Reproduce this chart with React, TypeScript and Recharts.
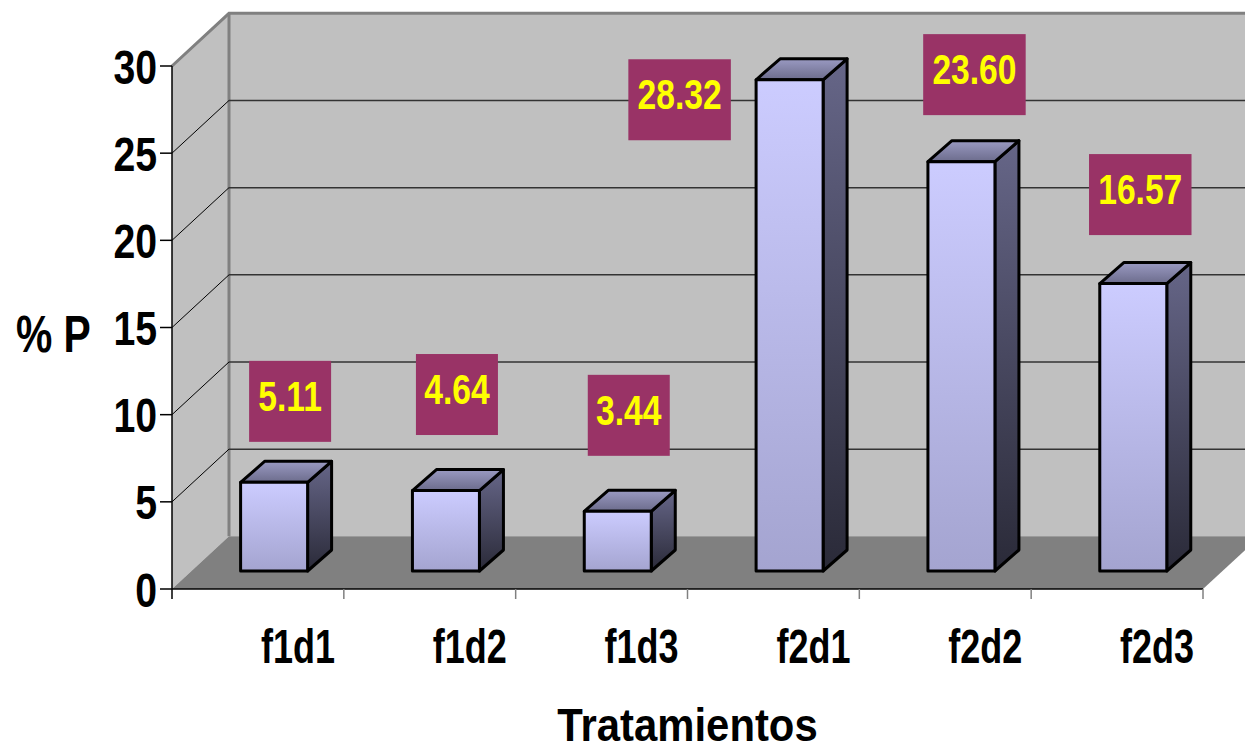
import {
  Bar,
  BarChart,
  LabelList,
  ReferenceArea,
  ReferenceLine,
  XAxis,
  YAxis,
} from "recharts";

// Phosphorus percentage per treatment, drawn Excel-3D style.
const treatments = ["f1d1", "f1d2", "f1d3", "f2d1", "f2d2", "f2d3"];
const percentP = [5.11, 4.64, 3.44, 28.32, 23.6, 16.57];
const yTicks = [0, 5, 10, 15, 20, 25, 30];
const gridTicks = [5, 10, 15, 20, 25];

const data = treatments.map((name, i) => ({ name, p: percentP[i] }));

// chart frame
const WIDTH = 1245;
const HEIGHT = 749;
const MARGIN = { top: 66, right: 42, bottom: 100, left: 0 };
const Y_AXIS_W = 172;
const X_AXIS_H = 60;
const PLOT_W = WIDTH - Y_AXIS_W - MARGIN.right;
const BAND = PLOT_W / treatments.length;

// oblique depth of the walls / floor
const DEPTH_X = 57;
const DEPTH_Y = 52.7;
// bars sit a third of the way into the floor
const BAR_SHIFT_X = 16.6;
const BAR_SHIFT_Y = 18;
const BAR_DX = 24;
const BAR_DY = 21;

// hand-placed label boxes, offset from their default spot above each bar
const LABEL_NUDGE: [number, number][] = [
  [4, 11],
  [-1, -4],
  [-1, -4],
  [-122, 112],
  [1, 5],
  [-5, 3],
];

const FONT = '"Liberation Sans", Arial, sans-serif';

function frontFace(x: number, y: number, width: number, height: number) {
  const fx = x + BAR_SHIFT_X;
  const fb = y + height - BAR_SHIFT_Y;
  const h = height * 0.995;
  return { fx, fb, ft: fb - h, fw: width };
}

function Walls(props: any) {
  const { x, y, width, height } = props;
  const b = y + height;
  return (
    <g>
      <rect
        x={x + DEPTH_X}
        y={y - DEPTH_Y}
        width={width + 80}
        height={height}
        fill="#C0C0C0"
      />
      <polygon
        points={`${x},${y} ${x + DEPTH_X},${y - DEPTH_Y} ${x + DEPTH_X},${b - DEPTH_Y} ${x},${b}`}
        fill="#C0C0C0"
      />
      <polygon
        points={`${x},${b} ${x + DEPTH_X},${b - DEPTH_Y} ${x + width + DEPTH_X + 80},${b - DEPTH_Y} ${x + width + 80},${b} ${x + width},${b}`}
        fill="#808080"
      />
      {/* cut the floor off along its right-hand diagonal */}
      <polygon
        points={`${x + width},${b} ${x + width + DEPTH_X + 80},${b - DEPTH_Y - 80 * (DEPTH_Y / DEPTH_X)} ${x + width + DEPTH_X + 80},${b + 20} ${x + width},${b + 20}`}
        fill="#FFFFFF"
      />
      <polyline
        points={`${x},${y} ${x + DEPTH_X},${y - DEPTH_Y} ${x + width + 120},${y - DEPTH_Y}`}
        fill="none"
        stroke="#808080"
        strokeWidth={3}
      />
      <line
        x1={x + DEPTH_X}
        y1={y - DEPTH_Y}
        x2={x + DEPTH_X}
        y2={b - DEPTH_Y}
        stroke="#808080"
        strokeWidth={3}
      />
    </g>
  );
}

function GridLine(props: any) {
  const { x1, y1, x2 } = props;
  return (
    <g>
      <line
        x1={x1}
        y1={y1}
        x2={x1 + DEPTH_X}
        y2={y1 - DEPTH_Y}
        stroke="#000"
        strokeWidth={1}
      />
      <line
        x1={x1 + DEPTH_X}
        y1={y1 - DEPTH_Y}
        x2={x2 + DEPTH_X + 80}
        y2={y1 - DEPTH_Y}
        stroke="#333"
        strokeWidth={1.5}
      />
    </g>
  );
}

function Box3D(props: any) {
  const { x, y, width, height } = props;
  const { fx, fb, ft, fw } = frontFace(x, y, width, height);
  const r = fx + fw;
  return (
    <g stroke="#000" strokeWidth={3} strokeLinejoin="round">
      <polygon
        points={`${r},${ft} ${r + BAR_DX},${ft - BAR_DY} ${r + BAR_DX},${fb - BAR_DY} ${r},${fb}`}
        fill="url(#sideFill)"
      />
      <polygon
        points={`${fx},${ft} ${fx + BAR_DX},${ft - BAR_DY} ${r + BAR_DX},${ft - BAR_DY} ${r},${ft}`}
        fill="url(#topFill)"
      />
      <rect x={fx} y={ft} width={fw} height={fb - ft} fill="url(#frontFill)" />
    </g>
  );
}

function ValueBox(props: any) {
  const { x, y, width, height, value, index } = props;
  if (x == null || value == null) return null;
  const { fx, ft, fw } = frontFace(x, y, width, height);
  const nudge = LABEL_NUDGE[index ?? 0] ?? [0, 0];
  const text = Number(value).toFixed(2);
  const w = text.length * 20.5;
  const h = 81;
  const cx = fx + fw / 2 + BAR_DX / 2 + nudge[0];
  const cy = ft - 92 + nudge[1];
  return (
    <g>
      <rect x={cx - w / 2} y={cy - h / 2} width={w} height={h} fill="#993366" />
      <text
        transform={`translate(${cx} ${cy - h / 2 + 50}) scale(0.8 1)`}
        textAnchor="middle"
        fill="#FFFF00"
        fontFamily={FONT}
        fontWeight="bold"
        fontSize={42}
      >
        {text}
      </text>
    </g>
  );
}

function YTick(props: any) {
  const { x, y, payload } = props;
  return (
    <text
      transform={`translate(${x} ${y + 17.5}) scale(0.8 1)`}
      textAnchor="end"
      fill="#000"
      fontFamily={FONT}
      fontWeight="bold"
      fontSize={49}
    >
      {payload.value}
    </text>
  );
}

function XTick(props: any) {
  const { x, y, payload, index } = props;
  const left = x - BAND / 2;
  const last = index === treatments.length - 1;
  return (
    <g>
      <line
        x1={left}
        y1={y}
        x2={left}
        y2={y + 10}
        stroke={index === 0 ? "#000" : "#808080"}
        strokeWidth={1.5}
      />
      {last && (
        <line
          x1={x + BAND / 2}
          y1={y}
          x2={x + BAND / 2}
          y2={y + 10}
          stroke="#808080"
          strokeWidth={1.5}
        />
      )}
      <text
        transform={`translate(${x + 40} ${y + 73.7}) scale(0.75 1)`}
        textAnchor="middle"
        fill="#000"
        fontFamily={FONT}
        fontWeight="bold"
        fontSize={48}
      >
        {payload.value}
      </text>
    </g>
  );
}

function XTitle(props: any) {
  const vb = props.viewBox ?? { x: 0, y: 0, width: 0 };
  return (
    <text
      transform={`translate(${vb.x + vb.width / 2} ${vb.y + 152}) scale(0.89 1)`}
      textAnchor="middle"
      fill="#000"
      fontFamily={FONT}
      fontWeight="bold"
      fontSize={47}
    >
      Tratamientos
    </text>
  );
}

function YTitle(props: any) {
  const vb = props.viewBox ?? { x: 0, y: 0, height: 0 };
  return (
    <text
      transform={`translate(${vb.x + 53.4} ${vb.y + vb.height / 2 + 24}) scale(0.8 1)`}
      textAnchor="middle"
      fill="#000"
      fontFamily={FONT}
      fontWeight="bold"
      fontSize={51}
    >
      % P
    </text>
  );
}

export default function App() {
  return (
    <div style={{ position: "absolute", left: 0, top: 0, background: "#fff" }}>
      <BarChart width={WIDTH} height={HEIGHT} data={data} margin={MARGIN}>
        <defs>
          <linearGradient id="frontFill" x1="0" y1="0" x2="0" y2="1">
            <stop offset="0%" stopColor="#CCCCFF" />
            <stop offset="100%" stopColor="#A4A4D0" />
          </linearGradient>
          <linearGradient id="sideFill" x1="0" y1="0" x2="0" y2="1">
            <stop offset="0%" stopColor="#666688" />
            <stop offset="100%" stopColor="#2A2A38" />
          </linearGradient>
          <linearGradient id="topFill" x1="0" y1="0" x2="0" y2="1">
            <stop offset="0%" stopColor="#9A9AC2" />
            <stop offset="100%" stopColor="#6C6C8C" />
          </linearGradient>
        </defs>
        <ReferenceArea
          y1={0}
          y2={30}
          shape={Walls}
          ifOverflow="visible"
          zIndex={-30}
        />
        {gridTicks.map((v) => (
          <ReferenceLine
            key={v}
            y={v}
            shape={GridLine}
            ifOverflow="visible"
            zIndex={-20}
          />
        ))}
        <XAxis
          dataKey="name"
          height={X_AXIS_H}
          tickLine={false}
          tickSize={0}
          tickMargin={0}
          axisLine={{ stroke: "#000", strokeWidth: 1.5 }}
          tick={XTick}
          interval={0}
          label={{ content: XTitle }}
        />
        <YAxis
          width={Y_AXIS_W}
          domain={[0, 30]}
          ticks={yTicks}
          tickSize={12}
          tickMargin={3}
          tickLine={{ stroke: "#000", strokeWidth: 1.5 }}
          axisLine={{ stroke: "#000", strokeWidth: 1.5 }}
          tick={YTick}
          interval={0}
          label={{ content: YTitle }}
        />
        <Bar dataKey="p" barSize={67} shape={Box3D} isAnimationActive={false}>
          <LabelList dataKey="p" content={ValueBox} />
        </Bar>
      </BarChart>
    </div>
  );
}
